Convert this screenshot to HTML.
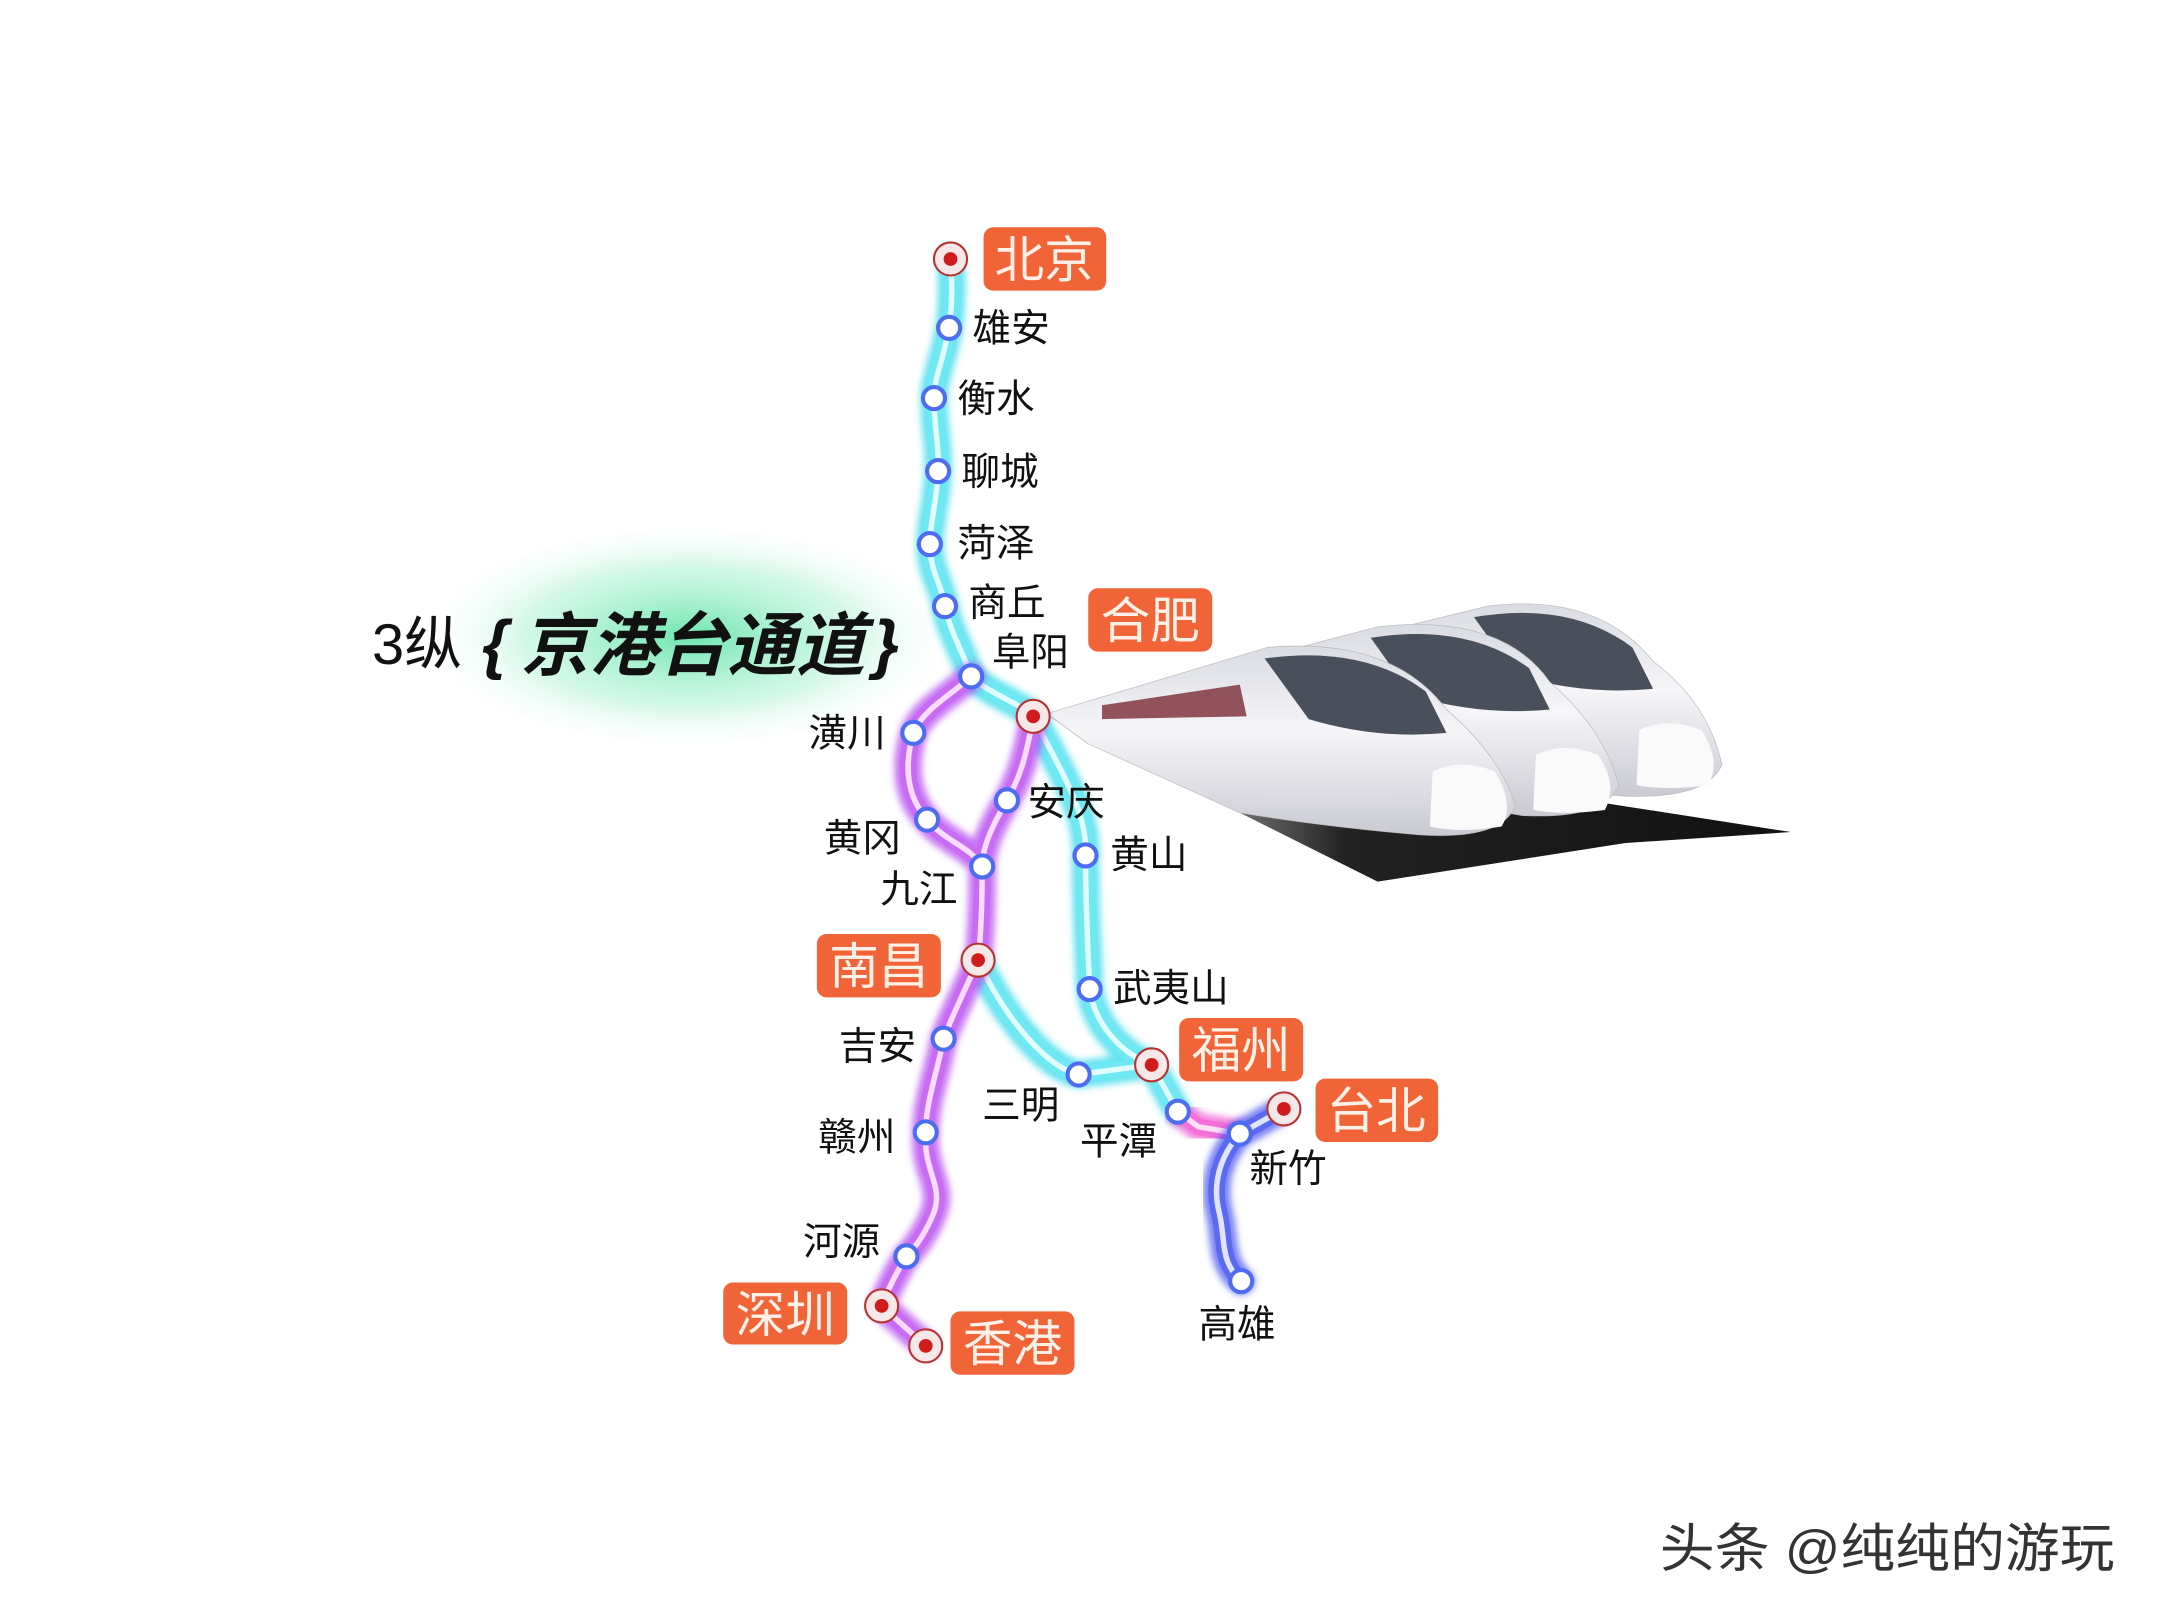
<!DOCTYPE html>
<html><head><meta charset="utf-8"><style>
html,body{margin:0;padding:0;background:#fff}
svg{display:block}
text{font-family:"Liberation Sans","Noto Sans CJK SC",sans-serif}
</style></head><body>
<svg width="2160" height="1620" viewBox="0 0 1568 1176" xmlns="http://www.w3.org/2000/svg">
<defs>
<radialGradient id="glow" cx="0.5" cy="0.5" r="0.5">
<stop offset="0" stop-color="#5ee3a6" stop-opacity="0.9"/>
<stop offset="0.6" stop-color="#9ff0cc" stop-opacity="0.45"/>
<stop offset="1" stop-color="#ffffff" stop-opacity="0"/>
</radialGradient>
<linearGradient id="body" x1="0" y1="0" x2="0" y2="1">
<stop offset="0" stop-color="#d9dbe2"/><stop offset="0.45" stop-color="#f6f6f9"/><stop offset="1" stop-color="#c9c9d2"/>
</linearGradient>
<linearGradient id="rail" x1="0" y1="0" x2="1" y2="0">
<stop offset="0" stop-color="#555" stop-opacity="0.2"/><stop offset="0.4" stop-color="#222"/><stop offset="1" stop-color="#111"/>
</linearGradient>
<filter id="bl" x="-20%" y="-20%" width="140%" height="140%"><feGaussianBlur stdDeviation="2.5"/></filter>
</defs>

<ellipse cx="500" cy="462" rx="200" ry="85" fill="url(#glow)"/>
<text x="270" y="482" font-size="42" fill="#111">3纵</text>
<text x="350" y="484" font-size="48" font-weight="bold" font-style="italic" fill="#111">{</text>
<text x="378" y="486" font-size="50" font-weight="bold" font-style="italic" fill="#111" textLength="250" lengthAdjust="spacingAndGlyphs">京港台通道</text>
<text x="634" y="484" font-size="48" font-weight="bold" font-style="italic" fill="#111">}</text>

<g>
<polygon points="760,520 1300,604 1180,612 1000,640" fill="url(#rail)"/>
<path d="M760,518 L1080,440 Q1160,430 1200,480 Q1240,510 1250,555 Q1240,580 1180,578 L790,540 Z" fill="url(#body)" stroke="#bbb" stroke-width="0.5"/>
<path d="M1070,448 Q1140,436 1185,470 L1200,500 Q1150,505 1100,490 Z" fill="#4a4f5c"/>
<path d="M760,518 L1000,455 Q1090,445 1125,495 Q1165,530 1175,570 Q1165,595 1105,592 L790,540 Z" fill="url(#body)" stroke="#bbb" stroke-width="0.5"/>
<path d="M995,463 Q1065,452 1110,485 L1125,515 Q1075,520 1025,505 Z" fill="#4a4f5c"/>
<path d="M760,518 L920,470 Q1010,462 1050,515 Q1090,550 1100,585 Q1090,610 1030,606 Q960,600 900,590 L790,540 Z" fill="url(#body)" stroke="#bbb" stroke-width="0.5"/>
<path d="M918,478 Q990,468 1035,502 L1050,532 Q1000,537 950,522 Z" fill="#4a4f5c"/>
<path d="M800,512 L900,497 L905,520 L800,522 Z" fill="#7a2a35" opacity="0.8"/>
<path d="M1040,560 Q1060,550 1085,560 Q1100,585 1090,600 Q1060,605 1038,600 Z" fill="#fafafa"/>
<path d="M1115,548 Q1135,538 1160,548 Q1175,570 1165,588 Q1135,592 1113,588 Z" fill="#fafafa"/>
<path d="M1190,530 Q1210,520 1235,530 Q1250,552 1240,570 Q1210,574 1188,570 Z" fill="#fafafa"/>
</g>

<g fill="none" stroke-linecap="round" stroke-linejoin="round">
<g id="cy">
<path d="M690,188 C692,215 690,230 689,238 C685,260 678,275 678,289 C678,310 682,325 681,342 C680,365 675,380 675,395 C675,415 684,425 686,440 C690,460 700,475 705,491 C720,505 740,510 750,520"/>
<path d="M750,520 C770,560 790,590 788,621 C788,660 790,690 791,718 C795,745 815,765 836,773 L855,807"/>
<path d="M710,697 C730,740 760,775 783,780 L836,773"/>
</g>
<use href="#cy" stroke="#3fdcec" stroke-width="20" filter="url(#bl)" opacity="0.8"/>
<use href="#cy" stroke="#6ee8f2" stroke-width="12"/>
<use href="#cy" stroke="#e0fdff" stroke-width="4"/>
<g id="pu">
<path d="M705,491 C690,505 670,515 663,532 C655,560 660,580 673,595 C685,610 705,615 713,629"/>
<path d="M750,520 C745,550 740,565 731,581 C720,600 713,615 713,629 C713,660 712,680 710,697 C700,720 690,740 685,754 C680,780 672,800 672,822 C670,850 685,860 678,880 C672,895 665,905 658,912 C650,925 645,935 640,948 L672,977"/>
</g>
<use href="#pu" stroke="#b64cf0" stroke-width="20" filter="url(#bl)" opacity="0.75"/>
<use href="#pu" stroke="#c86cf4" stroke-width="12"/>
<use href="#pu" stroke="#f7dcff" stroke-width="4"/>
<path id="pk" d="M855,807 L870,818 L900,823"/>
<use href="#pk" stroke="#f050d0" stroke-width="20" filter="url(#bl)" opacity="0.7"/>
<use href="#pk" stroke="#f46fd8" stroke-width="12"/>
<use href="#pk" stroke="#ffe0f7" stroke-width="4"/>
<path id="bu" d="M932,805 L900,823 C885,840 880,860 885,880 C890,900 885,915 901,930"/>
<use href="#bu" stroke="#3f50f0" stroke-width="20" filter="url(#bl)" opacity="0.7"/>
<use href="#bu" stroke="#5b6af0" stroke-width="12"/>
<use href="#bu" stroke="#e0e4ff" stroke-width="4"/>
</g>

<g fill="#fff" stroke="#4e6cf0" stroke-width="3">
<circle cx="689" cy="238" r="8"/><circle cx="678" cy="289" r="8"/><circle cx="681" cy="342" r="8"/>
<circle cx="675" cy="395" r="8"/><circle cx="686" cy="440" r="8"/><circle cx="705" cy="491" r="8"/>
<circle cx="663" cy="532" r="8"/><circle cx="673" cy="595" r="8"/><circle cx="731" cy="581" r="8"/>
<circle cx="713" cy="629" r="8"/><circle cx="788" cy="621" r="8"/><circle cx="791" cy="718" r="8"/>
<circle cx="685" cy="754" r="8"/><circle cx="783" cy="780" r="8"/><circle cx="672" cy="822" r="8"/>
<circle cx="855" cy="807" r="8"/><circle cx="900" cy="823" r="8"/><circle cx="658" cy="912" r="8"/>
<circle cx="901" cy="930" r="8"/>
</g>
<g fill="#f6e8e8" stroke="#b83030" stroke-width="1.5">
<circle cx="690" cy="188" r="12"/><circle cx="750" cy="520" r="12"/><circle cx="710" cy="697" r="12"/>
<circle cx="836" cy="773" r="12"/><circle cx="932" cy="805" r="12"/><circle cx="640" cy="948" r="12"/><circle cx="672" cy="977" r="12"/>
</g>
<g fill="#d01c1c">
<circle cx="690" cy="188" r="5"/><circle cx="750" cy="520" r="5"/><circle cx="710" cy="697" r="5"/>
<circle cx="836" cy="773" r="5"/><circle cx="932" cy="805" r="5"/><circle cx="640" cy="948" r="5"/><circle cx="672" cy="977" r="5"/>
</g>

<g fill="#f06438">
<rect x="714" y="165" width="89" height="46" rx="7"/>
<rect x="790" y="427" width="90" height="46" rx="7"/>
<rect x="593" y="678" width="90" height="46" rx="7"/>
<rect x="856" y="739" width="90" height="46" rx="7"/>
<rect x="955" y="783" width="89" height="46" rx="7"/>
<rect x="525" y="931" width="90" height="45" rx="7"/>
<rect x="690" y="952" width="90" height="46" rx="7"/>
</g>
<g fill="#fff1e8" font-size="36" text-anchor="middle">
<text x="758" y="201">北京</text>
<text x="835" y="463">合肥</text>
<text x="638" y="714">南昌</text>
<text x="901" y="775">福州</text>
<text x="999" y="819">台北</text>
<text x="570" y="967">深圳</text>
<text x="735" y="988">香港</text>
</g>

<g fill="#111" font-size="28">
<text x="706" y="248">雄安</text>
<text x="695" y="299">衡水</text>
<text x="698" y="352">聊城</text>
<text x="695" y="404">菏泽</text>
<text x="703" y="447">商丘</text>
<text x="720" y="483">阜阳</text>
<text x="587" y="542">潢川</text>
<text x="598" y="618">黄冈</text>
<text x="746" y="592">安庆</text>
<text x="639" y="655">九江</text>
<text x="806" y="630">黄山</text>
<text x="808" y="727">武夷山</text>
<text x="609" y="769">吉安</text>
<text x="713" y="812">三明</text>
<text x="594" y="835">赣州</text>
<text x="784" y="838">平潭</text>
<text x="907" y="858">新竹</text>
<text x="583" y="911">河源</text>
<text x="870" y="971">高雄</text>
</g>

<text x="1205" y="1137" font-size="38" fill="#333" textLength="330" lengthAdjust="spacingAndGlyphs">头条 @纯纯的游玩</text>
</svg>
</body></html>
